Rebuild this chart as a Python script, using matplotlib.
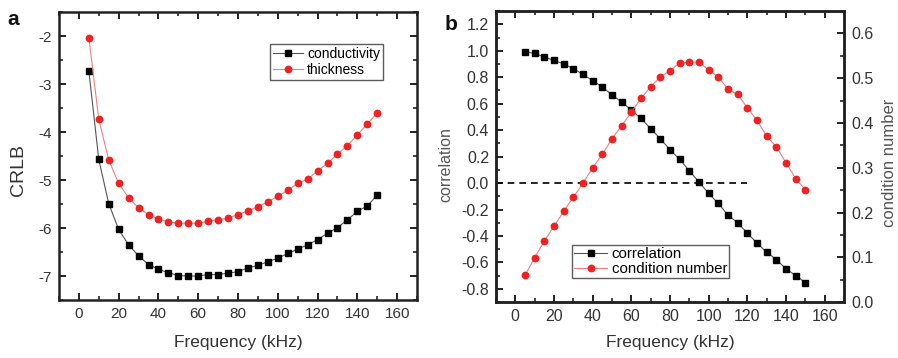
import matplotlib
matplotlib.use("Agg")
import matplotlib.pyplot as plt
from matplotlib.ticker import MultipleLocator

plt.rcParams['font.family'] = ['Liberation Sans', 'DejaVu Sans']
plt.rcParams['axes.unicode_minus'] = False

# Частоты (кГц)
freq = [5, 10, 15, 20, 25, 30, 35, 40, 45, 50, 55, 60, 65, 70, 75, 80, 85, 90,
        95, 100, 105, 110, 115, 120, 125, 130, 135, 140, 145, 150]

# Панель a: CRLB
crlb_conductivity = [-2.72, -4.57, -5.49, -6.03, -6.35, -6.58, -6.76, -6.86, -6.93, -6.99,
                     -7.00, -7.00, -6.97, -6.97, -6.94, -6.91, -6.83, -6.78, -6.70, -6.63,
                     -6.53, -6.44, -6.35, -6.24, -6.11, -5.99, -5.83, -5.65, -5.54, -5.31]
crlb_thickness = [-2.03, -3.73, -4.58, -5.07, -5.37, -5.58, -5.72, -5.81, -5.87, -5.90,
                  -5.90, -5.90, -5.86, -5.83, -5.79, -5.72, -5.64, -5.56, -5.45, -5.34,
                  -5.21, -5.07, -4.98, -4.81, -4.65, -4.46, -4.28, -4.06, -3.83, -3.60]

# Панель b: корреляция и число обусловленности
correlation = [0.994, 0.980, 0.953, 0.928, 0.900, 0.865, 0.822, 0.774, 0.726, 0.666,
               0.613, 0.552, 0.489, 0.411, 0.335, 0.252, 0.179, 0.093, 0.008, -0.078,
               -0.154, -0.242, -0.300, -0.378, -0.454, -0.522, -0.578, -0.648, -0.699, -0.752]
condition_number = [0.060, 0.099, 0.137, 0.169, 0.203, 0.234, 0.266, 0.300, 0.330, 0.365,
                    0.394, 0.424, 0.455, 0.481, 0.503, 0.517, 0.534, 0.536, 0.536, 0.518,
                    0.503, 0.475, 0.464, 0.434, 0.406, 0.370, 0.347, 0.311, 0.276, 0.251]
zero_line_x = [-10, 120]
zero_line_y = [0, 0]

RED = '#ee2222'
LINE_RED = '#f08080'
TEXT = '#333333'


def style_axes(ax, right_ticks=True, size=11):
    for sp in ax.spines.values():
        sp.set_linewidth(1.8)
        sp.set_color('#222222')
    ax.tick_params(which='major', direction='in', length=5, width=1.4,
                   top=True, right=right_ticks, labelsize=size, colors='#222222',
                   labelcolor=TEXT, pad=5)
    ax.tick_params(which='minor', direction='in', length=3, width=1.2,
                   top=True, right=right_ticks, colors='#222222')


fig = plt.figure(figsize=(8.98, 3.58), dpi=100)

# ---------- панель a ----------
ax1 = fig.add_axes([0.0657, 0.162, 0.3987, 0.804])
ax1.plot(freq, crlb_conductivity, color='#555555', linewidth=0.8,
         marker='s', markersize=4.2, markerfacecolor='black', markeredgecolor='black',
         label='conductivity')
ax1.plot(freq, crlb_thickness, color=LINE_RED, linewidth=0.8,
         marker='o', markersize=4.6, markerfacecolor=RED, markeredgecolor=RED,
         label='thickness')
ax1.set_xlim(-10, 170)
ax1.set_ylim(-7.5, -1.5)
ax1.xaxis.set_major_locator(MultipleLocator(20))
ax1.xaxis.set_minor_locator(MultipleLocator(10))
ax1.yaxis.set_major_locator(MultipleLocator(1))
ax1.yaxis.set_minor_locator(MultipleLocator(0.5))
style_axes(ax1, size=11)
ax1.set_xlabel('Frequency (kHz)', fontsize=12.5, color=TEXT)
ax1.set_ylabel('CRLB', fontsize=14, color=TEXT)
ax1.xaxis.set_label_coords(0.5, -0.12)
ax1.yaxis.set_label_coords(-0.089, 0.45)
leg1 = ax1.legend(loc='upper right', bbox_to_anchor=(0.905, 0.889), fontsize=10,
                  frameon=True, fancybox=False, edgecolor='#333333',
                  handlelength=2.2, borderpad=0.2, labelspacing=0.15,
                  handletextpad=0.3, borderaxespad=0)
leg1.get_frame().set_linewidth(1.0)
fig.text(0.008, 0.93, 'a', fontsize=15, fontweight='bold', color='#111111')

# ---------- панель b ----------
ax2 = fig.add_axes([0.5523, 0.156, 0.3876, 0.813])
ax3 = ax2.twinx()
l1, = ax2.plot(freq, correlation, color='#555555', linewidth=0.8,
               marker='s', markersize=4.2, markerfacecolor='black', markeredgecolor='black',
               label='correlation')
ax2.plot(zero_line_x, zero_line_y, color='black', linestyle=(0, (4, 3)), linewidth=1.2)
l2, = ax3.plot(freq, condition_number, color=LINE_RED, linewidth=0.8,
               marker='o', markersize=4.6, markerfacecolor=RED, markeredgecolor=RED,
               label='condition number')
ax2.set_xlim(-10, 170)
ax2.set_ylim(-0.9, 1.3)
ax3.set_ylim(0.0, 0.65)
ax2.xaxis.set_major_locator(MultipleLocator(20))
ax2.xaxis.set_minor_locator(MultipleLocator(10))
ax2.yaxis.set_major_locator(MultipleLocator(0.2))
ax2.yaxis.set_minor_locator(MultipleLocator(0.1))
ax3.yaxis.set_major_locator(MultipleLocator(0.1))
ax3.yaxis.set_minor_locator(MultipleLocator(0.05))
style_axes(ax2, right_ticks=False, size=11.5)
style_axes(ax3, size=11.5)
ax2.yaxis.set_major_formatter(plt.FuncFormatter(lambda v, p: f'{v:.1f}'))
ax3.yaxis.set_major_formatter(plt.FuncFormatter(lambda v, p: f'{v:.1f}'))
ax2.set_xlabel('Frequency (kHz)', fontsize=12.5, color=TEXT)
ax2.set_ylabel('correlation', fontsize=11.5, color='#555555')
ax3.set_ylabel('condition number', fontsize=12, color='#555555')
ax2.xaxis.set_label_coords(0.5, -0.113)
ax2.yaxis.set_label_coords(-0.121, 0.474)
ax3.yaxis.set_label_coords(1.109, 0.478)
leg2 = ax2.legend([l1, l2], ['correlation', 'condition number'],
                  loc='lower left', bbox_to_anchor=(0.218, 0.082), fontsize=10.8,
                  frameon=True, fancybox=False, edgecolor='#333333',
                  handlelength=2.2, borderpad=0.15, labelspacing=0.05,
                  handletextpad=0.3, borderaxespad=0)
leg2.get_frame().set_linewidth(1.0)
fig.text(0.495, 0.915, 'b', fontsize=15, fontweight='bold', color='#111111')

fig.savefig('out.png', dpi=100)
